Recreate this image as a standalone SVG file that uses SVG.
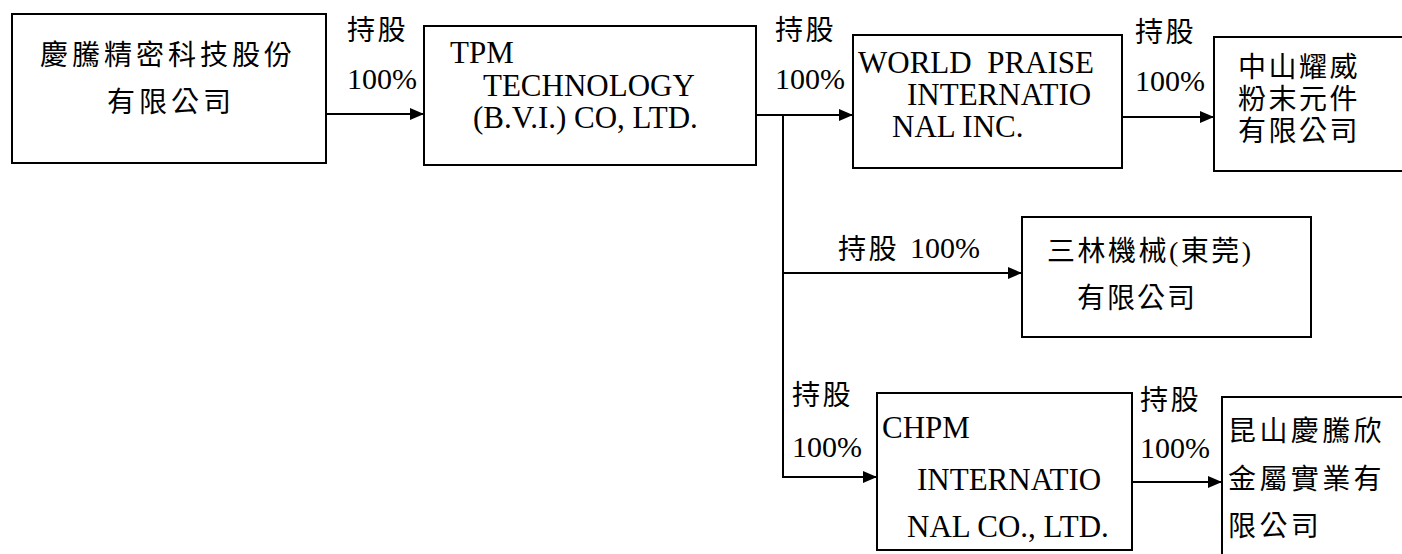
<svg xmlns="http://www.w3.org/2000/svg" width="1402" height="554" viewBox="0 0 1402 554">
<style>
.box{fill:#fff;stroke:#000;stroke-width:2}
.en{font-family:"Liberation Serif","Noto Sans CJK TC",serif;font-size:31px;fill:#000}
.cj{font-family:"Liberation Serif","Noto Sans CJK TC",serif;font-size:28px;fill:#000;letter-spacing:4px}
.lb{font-family:"Liberation Serif","Noto Sans CJK TC",serif;font-size:28px;fill:#000;letter-spacing:2.5px}
.pc{font-family:"Liberation Serif",serif;font-size:30px;fill:#000}
.ln{fill:none;stroke:#000;stroke-width:2}
</style>
<defs>
<marker id="ah" markerUnits="userSpaceOnUse" markerWidth="14" markerHeight="12" refX="13" refY="6" orient="auto">
<path d="M0,0 L14,6 L0,12 z" fill="#000"/>
</marker>
</defs>
<rect width="1402" height="554" fill="#fff"/>
<g id="connectors">
<path class="ln" d="M326,114 H423" marker-end="url(#ah)"/>
<path class="ln" d="M756,115 H852" marker-end="url(#ah)"/>
<path class="ln" d="M1122,117 H1213" marker-end="url(#ah)"/>
<path class="ln" d="M783,115 V477 H876" marker-end="url(#ah)"/>
<path class="ln" d="M783,273 H1021" marker-end="url(#ah)"/>
<path class="ln" d="M1132,482 H1221" marker-end="url(#ah)"/>
<text class="lb" x="347" y="40">持股</text>
<text class="pc" x="347" y="89">100%</text>
<text class="lb" x="775" y="40">持股</text>
<text class="pc" x="775" y="89">100%</text>
<text class="lb" x="1135" y="42">持股</text>
<text class="pc" x="1135" y="91">100%</text>
<text class="lb" x="838" y="259">持股</text>
<text class="pc" x="910" y="258">100%</text>
<text class="lb" x="792" y="405">持股</text>
<text class="pc" x="792" y="457">100%</text>
<text class="lb" x="1140" y="410">持股</text>
<text class="pc" x="1140" y="458">100%</text>
</g>
<g id="node-qingteng">
<rect class="box" x="12" y="14" width="314" height="149"/>
<text class="cj" x="40" y="65">慶騰精密科技股份</text>
<text class="cj" x="107" y="112">有限公司</text>
</g>
<g id="node-tpm">
<rect class="box" x="424" y="26" width="332" height="139"/>
<text class="en" x="450" y="63">TPM</text>
<text class="en" x="483" y="96">TECHNOLOGY</text>
<text class="en" x="473" y="128">(B.V.I.) CO, LTD.</text>
</g>
<g id="node-worldpraise">
<rect class="box" x="853" y="35" width="269" height="133"/>
<text class="en" x="858" y="73">WORLD&#160; PRAISE</text>
<text class="en" x="907" y="105">INTERNATIO</text>
<text class="en" x="892" y="137">NAL INC.</text>
</g>
<g id="node-zhongshan">
<rect class="box" x="1214" y="37" width="200" height="134"/>
<text class="cj" x="1238" y="77" style="letter-spacing:2.5px">中山耀威</text>
<text class="cj" x="1238" y="109" style="letter-spacing:2.5px">粉末元件</text>
<text class="cj" x="1238" y="141" style="letter-spacing:2.5px">有限公司</text>
</g>
<g id="node-sanlin">
<rect class="box" x="1022" y="217" width="289" height="120"/>
<text class="cj" x="1047" y="261" style="letter-spacing:2.5px">三林機械(東莞)</text>
<text class="cj" x="1077" y="308" style="letter-spacing:2px">有限公司</text>
</g>
<g id="node-chpm">
<rect class="box" x="877" y="393" width="255" height="157"/>
<text class="en" x="882" y="438">CHPM</text>
<text class="en" x="917" y="490">INTERNATIO</text>
<text class="en" x="907" y="537">NAL CO., LTD.</text>
</g>
<g id="node-kunshan">
<rect class="box" x="1222" y="397" width="200" height="180"/>
<text class="cj" x="1228" y="441" style="letter-spacing:3.4px">昆山慶騰欣</text>
<text class="cj" x="1228" y="489" style="letter-spacing:3.4px">金屬實業有</text>
<text class="cj" x="1228" y="536" style="letter-spacing:3.4px">限公司</text>
</g>
</svg>
